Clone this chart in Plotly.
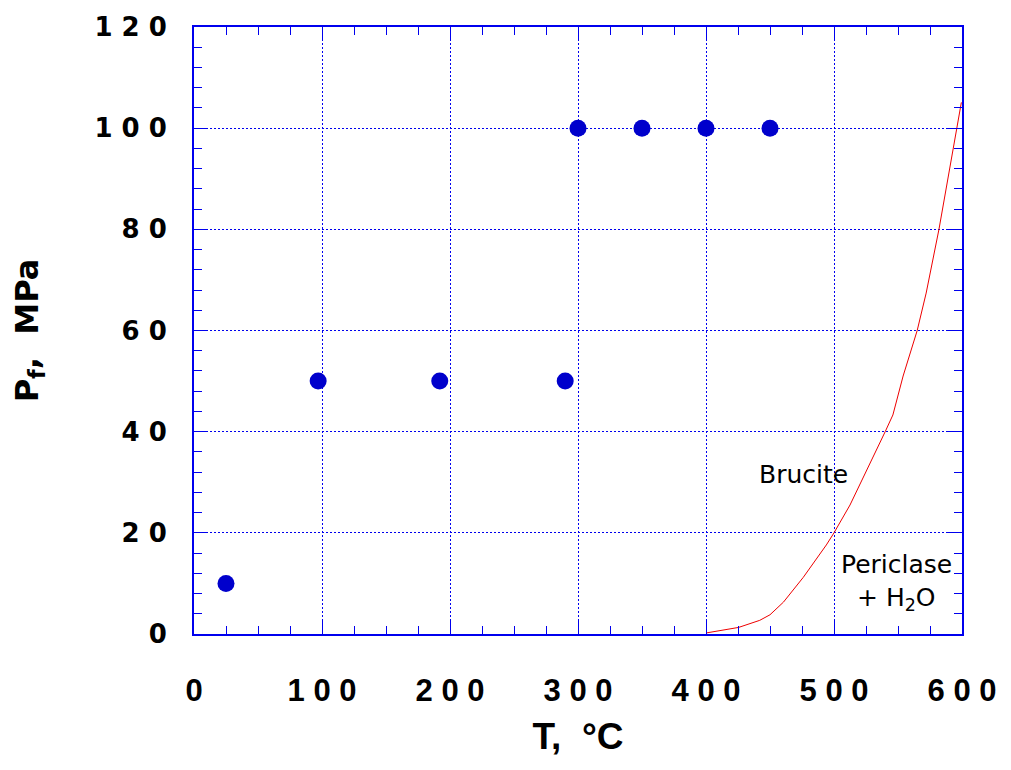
import plotly.graph_objects as go

# Experimental points
pt_T = [25, 97, 192, 290, 300, 350, 400, 450]
pt_P = [10, 50, 50, 50, 100, 100, 100, 100]

# Brucite = Periclase + H2O equilibrium curve
cv_T = [400, 425.5, 442, 450, 460.5, 476, 494, 500, 512.5, 529, 540, 546, 554, 565, 572, 582, 590.4, 599.5]
cv_P = [0.2, 1.3, 2.7, 3.8, 6.3, 11.2, 17.6, 20, 25.5, 34, 40, 43.3, 51, 60, 67.4, 80, 92.3, 105.1]

x_ticks = [0, 100, 200, 300, 400, 500, 600]
x_text = ["0", "1 0 0", "2 0 0", "3 0 0", "4 0 0", "5 0 0", "6 0 0"]
y_ticks = [0, 20, 40, 60, 80, 100, 120]
y_text = ["0", "2 0", "4 0", "6 0", "8 0", "1 0 0", "1 2 0"]

BLUE = "#0000ee"
TXT = "DejaVu Sans, Liberation Sans, Arial"

fig = go.Figure()
fig.add_trace(go.Scatter(x=cv_T, y=cv_P, mode="lines",
                         line=dict(color="#ee0000", width=1), hoverinfo="skip"))
fig.add_trace(go.Scatter(x=pt_T, y=pt_P, mode="markers",
                         marker=dict(color="#0000cc", size=17)))

fig.add_annotation(x=476, y=31.5, text="Brucite", showarrow=False,
                   font=dict(family=TXT, size=25, color="black"))
fig.add_annotation(x=594, y=13.7, text="Periclase", showarrow=False, xanchor="right",
                   font=dict(family=TXT, size=25, color="black"))
fig.add_annotation(x=581, y=7.0, text="+ H<sub>2</sub>O", showarrow=False, xanchor="right",
                   font=dict(family=TXT, size=25, color="black"))

axis_common = dict(
    showline=True, linecolor=BLUE, linewidth=2, mirror="ticks",
    ticks="inside", tickcolor=BLUE, ticklen=14, tickwidth=1,
    showgrid=True, gridcolor=BLUE, griddash="2px,2px", gridwidth=1,
    zeroline=False,
)

fig.update_xaxes(range=[0, 600], tickvals=x_ticks, ticktext=x_text,
                 minor=dict(dtick=25, ticks="inside", ticklen=8, tickcolor=BLUE, showgrid=False),
                 tickfont=dict(family="Liberation Sans, Arial", size=31, color="black", weight="bold"),
                 ticklabelstandoff=28,
                 title=dict(text="T,  °C", font=dict(family="Liberation Sans, Arial", size=37, color="black", weight="bold"), standoff=16),
                 **axis_common)
fig.update_yaxes(range=[0, 120], tickvals=y_ticks, ticktext=y_text,
                 minor=dict(dtick=4, ticks="inside", ticklen=8, tickcolor=BLUE, showgrid=False),
                 tickfont=dict(family="DejaVu Sans, Liberation Sans, Arial", size=26, color="black", weight="bold"),
                 ticklabelstandoff=20,
                 title=dict(text="P<sub>f</sub>,  MPa", font=dict(family="DejaVu Sans, Liberation Sans, Arial", size=32, color="black", weight="bold"), standoff=46),
                 **axis_common)

fig.update_layout(
    width=1011, height=770,
    margin=dict(l=194, r=49, t=22, b=136),
    plot_bgcolor="white", paper_bgcolor="white",
    showlegend=False,
)

fig.write_html("out.html")
